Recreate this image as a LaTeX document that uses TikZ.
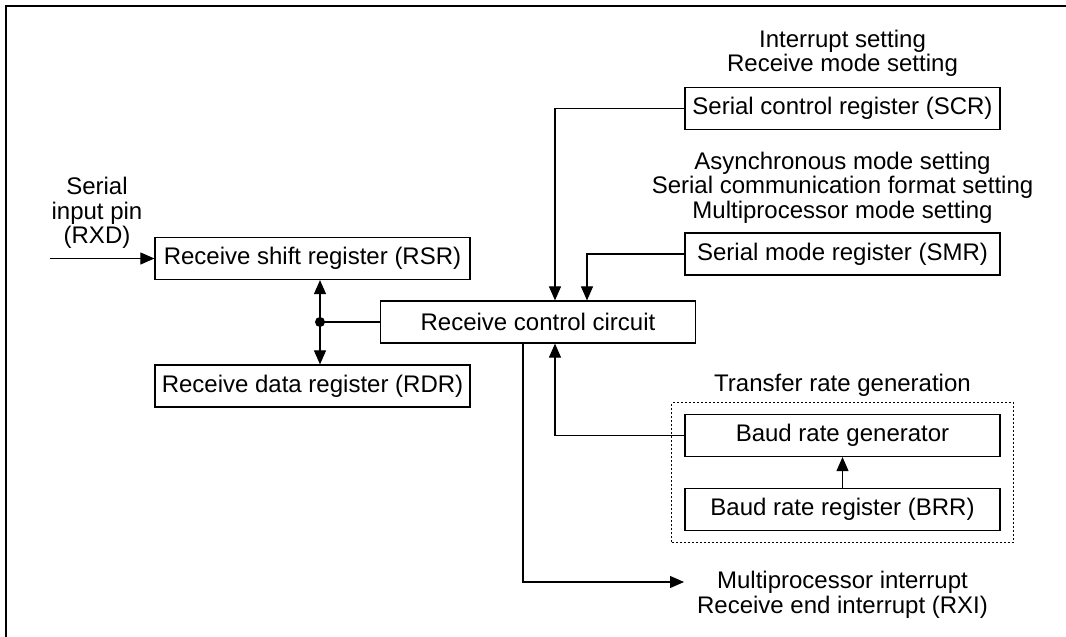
\documentclass[tikz,border=0pt]{standalone}
\usepackage{fontspec}
\setmainfont{Liberation Sans}
\usetikzlibrary{arrows.meta,fit}

\begin{document}
\begin{tikzpicture}[x=1pt,y=-1pt,line join=miter,
  font=\fontsize{24}{24.5}\selectfont,
  reg/.style={draw,line width=1.2pt,minimum width=315pt,minimum height=42pt,inner sep=0pt},
  lbl/.style={align=center,inner sep=0pt},
  sig/.style={line width=1.1pt,-{Triangle[length=14pt,width=12pt]}}]
  \useasboundingbox (0,0) rectangle (1066,637);
  \draw[line width=2.5pt] (6,637) -- (6,6) -- (1066,6);
  % registers
  \node[reg] (rsr) at (312.5,258.5) {Receive shift register (RSR)};
  \node[reg] (rdr) at (312.5,386) {Receive data register (RDR)};
  \node[reg] (rcc) at (538,322) {Receive control circuit};
  \node[reg] (scr) at (842.5,108.5) {Serial control register (SCR)};
  \node[reg] (smr) at (842.5,254) {Serial mode register (SMR)};
  \node[reg] (brg) at (842.5,435.5) {Baud rate generator};
  \node[reg] (brr) at (842.5,509.5) {Baud rate register (BRR)};
  \node[draw,line width=1.1pt,dash pattern=on 2pt off 2pt,fit=(brg)(brr),
    inner xsep=12.5pt,inner ysep=11.5pt] (trg) {};
  % texts
  \node[lbl] (pin) at (97,213) {Serial\\input pin\\(RXD)};
  \node[lbl] (scrtxt) at (842.5,53.5) {Interrupt setting\\Receive mode setting};
  \node[lbl] (smrtxt) at (842.5,187.5)
    {Asynchronous mode setting\\Serial communication format setting\\Multiprocessor mode setting};
  \node[lbl] (trgtxt) at (842.5,385) {Transfer rate generation};
  \node[lbl] (irq) at (842.5,595) {Multiprocessor interrupt\\Receive end interrupt (RXI)};
  % connections
  \coordinate (rxdin) at (50,258.5);
  \coordinate (bus) at (320,322);
  \coordinate (irqin) at (684,582);
  \draw[sig] (rxdin) -- (rsr.west);
  \draw[sig] (bus) -- (bus |- rsr.south);
  \draw[sig] (bus) -- (bus |- rdr.north);
  \draw[line width=1.1pt] (bus) -- (rcc.west);
  \fill (bus) circle (5pt);
  \draw[sig] (scr.west) -| ([xshift=17pt]rcc.north);
  \draw[sig] (smr.west) -| ([xshift=49pt]rcc.north);
  \draw[sig] (brg.west) -| ([xshift=17pt]rcc.south);
  \draw[sig] ([xshift=-15pt]rcc.south) |- (irqin);
  \draw[sig] (brr) -- (brg);
\end{tikzpicture}
\end{document}
